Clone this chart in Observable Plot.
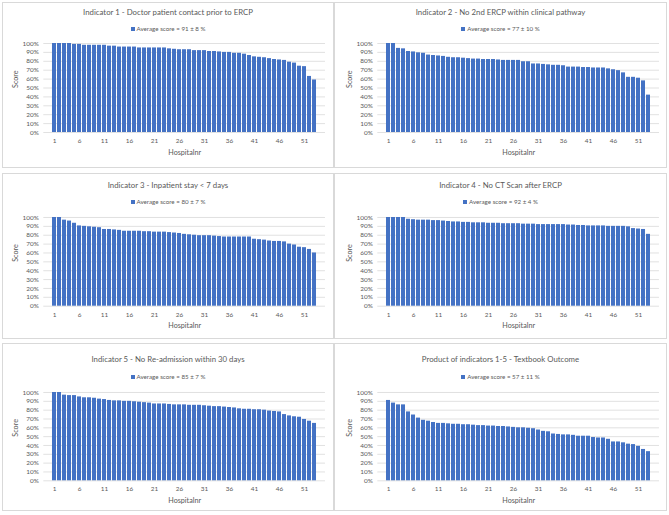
<!DOCTYPE html>
<html><head><meta charset="utf-8">
<script src="https://cdn.jsdelivr.net/npm/d3@7"></script>
<script src="https://cdn.jsdelivr.net/npm/@observablehq/plot@0.6"></script>
<style>
body{margin:0;background:#fff;font-family:Lato,"Open Sans",sans-serif;}
#page{position:relative;width:669px;height:515px;overflow:hidden;background:#fff;}
.panel{position:absolute;border:1px solid #d9d9d9;box-sizing:border-box;background:#fff;}
.title{position:absolute;text-align:center;font-size:7.8px;color:#595959;line-height:10px;white-space:nowrap;}
.legend{position:absolute;text-align:center;font-size:6.2px;color:#595959;line-height:8px;white-space:nowrap;}
.legend .sw{display:inline-block;width:4px;height:4px;background:#4472C4;margin-right:2px;vertical-align:-0.2px;}
.chart{position:absolute;}
</style>
</head><body>
<div id="page"></div>
<script>
const hospitals = [1,2,3,4,5,6,7,8,9,10,11,12,13,14,15,16,17,18,19,20,21,22,23,24,25,26,27,28,29,30,31,32,33,34,35,36,37,38,39,40,41,42,43,44,45,46,47,48,49,50,51,52,53];
const xTicks = [1,6,11,16,21,26,31,36,41,46,51];
const yTicks = [0,10,20,30,40,50,60,70,80,90,100];

const titles = [
  "Indicator 1 - Doctor patient contact prior to ERCP",
  "Indicator 2 - No 2nd ERCP within clinical pathway",
  "Indicator 3 - Inpatient stay < 7 days",
  "Indicator 4 - No CT Scan after ERCP",
  "Indicator 5 - No Re-admission within 30 days",
  "Product of indicators 1-5 - Textbook Outcome"
];
const legends = [
  "Average score = 91 ± 8 %",
  "Average score = 77 ± 10 %",
  "Average score = 80 ± 7 %",
  "Average score = 92 ± 4 %",
  "Average score = 85 ± 7 %",
  "Average score = 57 ± 11 %"
];

const ind1 = [100,100,100,100,99,99,98,98,98,98,98,97,97,96,96,96,96,95,95,95,95,95,95,94,93.5,93,93,93,92,92,92,91,91,90.5,90,90,89,89,88,86.5,85,84.5,84,83,82,81.5,81,79,78,74.5,74,63,59];
const ind2 = [100,100,94.5,94,91,90.5,89.5,89,87,86.5,86,85.5,84.5,84,84,83.5,83,82.5,82.5,82,82,82,81.5,81,81,81,81,79.5,79.5,77,77,76.5,76,75.5,75.5,75,73.5,73.5,73.5,73,73,72.5,72.5,72.5,71.5,70.5,69.5,67,62,62,61,58,42];
const ind3 = [100,100,97,96,93.5,90.5,90,89.5,89,88.5,86.5,86.5,86,85.5,84.5,84.5,84.5,84.5,84,84,83.5,83.5,83.5,83,82.5,82,81,80.5,80,79.5,79.5,79.5,79,78.5,78,78,78,78,78,78,75.5,75,74.5,73.5,73,73,72.5,70,69,66.5,66,64,60];
const ind4 = [100,100,100,100,98,97.5,97,97,97,96.5,96.5,96,95.5,95,95,94.5,94.5,94,94,94,93.5,93.5,93.5,93,93,93,93,92.5,92.5,92.5,92,92,92,92,92,92,91.5,91.5,91,91,90.5,90.5,90.5,90.5,90,90,90,90,89.5,87.5,87,86.5,81];
const ind5 = [100,100,97,96.5,96.5,95,94,94,93.5,92.5,92,91,90.5,90.5,90,90,89.5,89,88.5,88,87,87,87,86.5,86,86,86,85.5,85.5,85.5,85,84.5,84,84,83.5,83,82.5,81.5,81,81,80.5,80.5,80,79,78.5,78,75,73.5,72.5,72,69.5,67.5,65];
const textbook = [91,88,86,86,78,74.5,71,68.5,67.5,66,65,65,64.5,64,64,63.5,63.5,63,62.5,62.5,62,62,61.5,61.5,61,60.5,60,60,59.5,59,57.5,56,55.5,53,52.5,52,52,51.5,50.5,50.5,50.5,49,48.5,48.5,47,44,44,43,41.5,41,39,35.5,33];

const series = [ind1, ind2, ind3, ind4, ind5, textbook];

// layout (page coordinates)
const cols = [
  {left: 2, width: 332, plotLeft: 43.3, plotRight: 325},
  {left: 334, width: 333, plotLeft: 377.3, plotRight: 659}
];
const rows = [
  {top: 2, height: 166, title: 12, legend: 28.5, plotTop: 43.3, plotBottom: 132.3},
  {top: 173, height: 166, title: 185, legend: 202.3, plotTop: 217.3, plotBottom: 306},
  {top: 343, height: 168, title: 359, legend: 376.7, plotTop: 391.7, plotBottom: 480}
];

const page = document.getElementById("page");
const FONT = "Lato, 'Open Sans', sans-serif";
const TXT = "#595959";

series.forEach((vals, i) => {
  const col = cols[i % 2], row = rows[Math.floor(i / 2)];
  const panel = document.createElement("div");
  panel.className = "panel";
  Object.assign(panel.style, {left: col.left + "px", top: row.top + "px", width: col.width + "px", height: row.height + "px"});
  page.appendChild(panel);

  const t = document.createElement("div");
  t.className = "title";
  t.textContent = titles[i];
  Object.assign(t.style, {left: col.left + "px", width: col.width + "px", top: (row.title - 5) + "px"});
  page.appendChild(t);

  const lg = document.createElement("div");
  lg.className = "legend";
  lg.innerHTML = '<span class="sw"></span>' + legends[i];
  Object.assign(lg.style, {left: col.left + "px", width: col.width + "px", top: (row.legend - 4) + "px"});
  page.appendChild(lg);

  const data = hospitals.map((h, k) => ({hospital: h, score: vals[k]}));
  const mTop = 8, mBottom = 30;
  const svgTop = row.plotTop - mTop;
  const height = row.plotBottom - row.plotTop + mTop + mBottom;
  const chart = Plot.plot({
    width: col.width,
    height,
    marginLeft: col.plotLeft - col.left,
    marginRight: col.left + col.width - col.plotRight,
    marginTop: mTop,
    marginBottom: mBottom,
    style: {fontFamily: FONT, fontSize: "6.4px", color: TXT, background: "transparent", overflow: "visible"},
    x: {type: "band", domain: hospitals, paddingInner: 0.13, paddingOuter: 0.07, axis: null, label: null},
    y: {domain: [0, 100], axis: null, label: null},
    marks: [
      Plot.gridY(yTicks, {stroke: "#d9d9d9", strokeOpacity: 1, strokeWidth: 0.8}),
      Plot.barY(data, {x: "hospital", y: "score", fill: "#4472C4"}),
      Plot.axisY(yTicks, {tickSize: 0, tickPadding: 5, tickFormat: d => d + "%", label: null, fill: TXT}),
      Plot.axisX(xTicks, {tickSize: 0, tickPadding: 6, label: null, fill: TXT}),
      Plot.text(["Hospitalnr"], {frameAnchor: "bottom", dy: 22, fontSize: 7.2, fill: TXT}),
      Plot.text(["Score"], {frameAnchor: "left", dx: -28, rotate: -90, fontSize: 7.2, fill: TXT})
    ]
  });
  chart.classList.add("chart");
  Object.assign(chart.style, {left: col.left + "px", top: svgTop + "px"});
  page.appendChild(chart);
});
</script>
</body></html>
